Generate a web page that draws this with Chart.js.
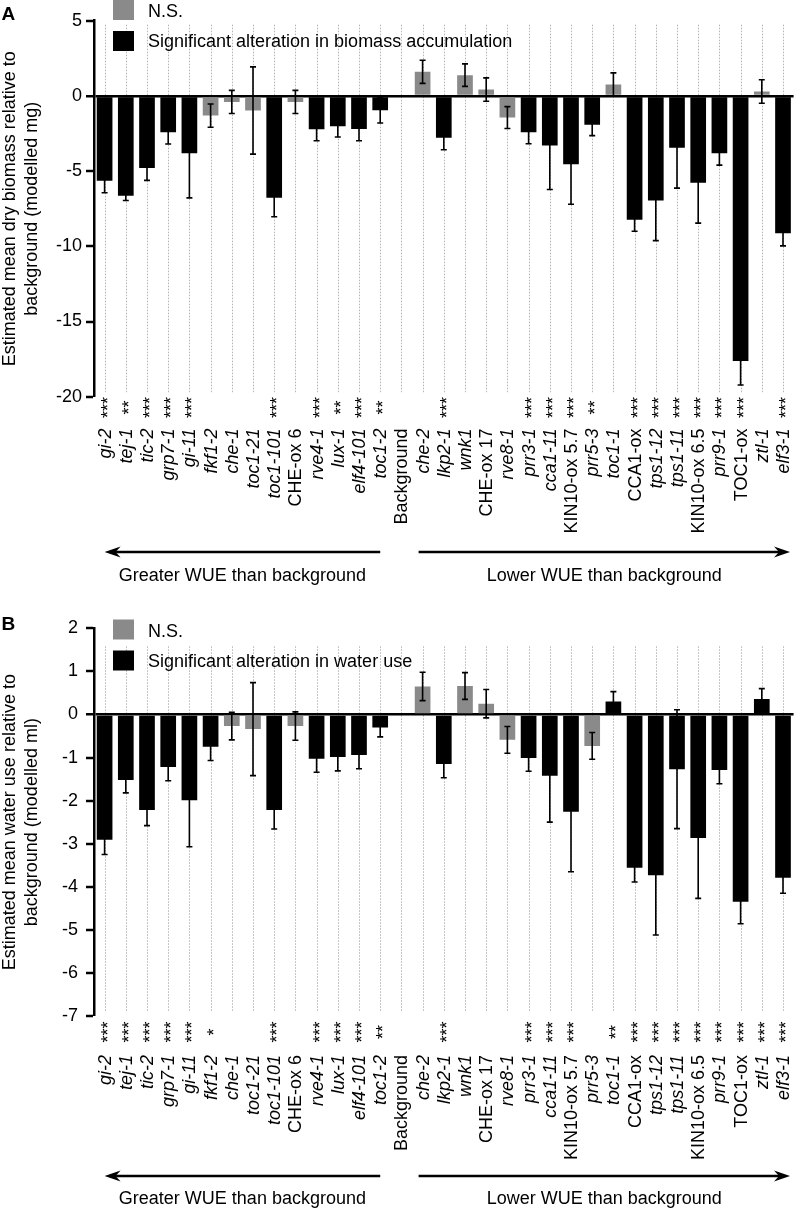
<!DOCTYPE html>
<html>
<head>
<meta charset="utf-8">
<script src="https://cdn.jsdelivr.net/npm/chart.js@4.4.0/dist/chart.umd.min.js"></script>
<style>
    body { margin: 0; background: #fff; }
    .painel { position: relative; width: 810px; }
    canvas { display: block; }
</style>
</head>
<body>
<div class="painel" style="height:600px"><canvas id="chartA" width="810" height="600"></canvas></div>
<div class="painel" style="height:608px"><canvas id="chartB" width="810" height="608"></canvas></div>
<script>
// Lines (x categories)
const lines = ['gi-2', 'tej-1', 'tic-2', 'grp7-1', 'gi-11', 'fkf1-2', 'che-1', 'toc1-21', 'toc1-101', 'CHE-ox 6',
    'rve4-1', 'lux-1', 'elf4-101', 'toc1-2', 'Background', 'che-2', 'lkp2-1', 'wnk1', 'CHE-ox 17', 'rve8-1',
    'prr3-1', 'cca1-11', 'KIN10-ox 5.7', 'prr5-3', 'toc1-1', 'CCA1-ox', 'tps1-12', 'tps1-11', 'KIN10-ox 6.5',
    'prr9-1', 'TOC1-ox', 'ztl-1', 'elf3-1'];

// Labels written upright (everything else is a gene name, in italics)
const uprightLabels = ['CHE-ox 6', 'Background', 'CHE-ox 17', 'KIN10-ox 5.7', 'CCA1-ox', 'KIN10-ox 6.5', 'TOC1-ox'];

// Panel A: dry biomass (modelled mg)
const biomass = [-5.64, -6.64, -4.8, -2.42, -3.82, -1.31, -0.4, -0.97, -6.78, -0.4,
    -2.22, -2.02, -2.2, -0.95, null, 1.6, -2.78, 1.38, 0.42, -1.44,
    -2.42, -3.29, -4.55, -1.91, 0.76, -8.24, -6.95, -3.44, -5.77,
    -3.82, -17.62, 0.29, -9.13];
const biomassErr = [0.8, 0.31, 0.82, 0.78, 2.96, 0.77, 0.77, 2.9, 1.26, 0.77,
    0.76, 0.71, 0.78, 0.85, null, 0.77, 0.8, 0.75, 0.78, 0.73,
    0.76, 2.93, 2.65, 0.73, 0.77, 0.76, 2.67, 2.69, 2.69,
    0.78, 1.6, 0.78, 0.84];
const biomassStars = ['***', '**', '***', '***', '***', '', '', '', '***', '',
    '***', '**', '***', '**', '', '', '***', '', '', '',
    '***', '***', '***', '**', '', '***', '***', '***', '***',
    '***', '***', '', '***'];
const biomassTicks = [5, 0, -5, -10, -15, -20];

// Panel B: water use (modelled ml)
const water = [-2.91, -1.52, -2.22, -1.22, -1.99, -0.75, -0.27, -0.34, -2.22, -0.27,
    -1.03, -0.99, -0.94, -0.3, null, 0.65, -1.15, 0.66, 0.25, -0.59,
    -1.01, -1.42, -2.26, -0.73, 0.3, -3.56, -3.73, -1.27, -2.87,
    -1.29, -4.35, 0.36, -3.79];
const waterErr = [0.34, 0.3, 0.36, 0.32, 1.08, 0.32, 0.32, 1.08, 0.44, 0.33,
    0.31, 0.32, 0.32, 0.22, null, 0.33, 0.32, 0.31, 0.33, 0.31,
    0.31, 1.08, 1.39, 0.31, 0.23, 0.33, 1.39, 1.38, 1.4,
    0.32, 0.51, 0.24, 0.36];
const waterStars = ['***', '***', '***', '***', '***', '*', '', '', '***', '',
    '***', '***', '***', '**', '', '', '***', '', '', '',
    '***', '***', '***', '', '**', '***', '***', '***', '***',
    '***', '***', '***', '***'];
const waterTicks = [2, 1, 0, -1, -2, -3, -4, -5, -6, -7];

const FONT = '"Liberation Sans", Arial, Helvetica, sans-serif';
const GRAY = '#8a8a8a';

// Draws one rotated (bottom-to-top) text
function textoVertical(ctx, text, x, y, align, font) {
    ctx.save();
    ctx.translate(x, y);
    ctx.rotate(-Math.PI / 2);
    ctx.font = font;
    ctx.textAlign = align;
    ctx.textBaseline = 'middle';
    ctx.fillText(text, 0, 0);
    ctx.restore();
}

// Horizontal arrow with filled head at (x2, y)
function seta(ctx, x1, x2, y) {
    const dir = Math.sign(x2 - x1);
    ctx.save();
    ctx.strokeStyle = '#000';
    ctx.fillStyle = '#000';
    ctx.lineWidth = 2.5;
    ctx.beginPath();
    ctx.moveTo(x1, y);
    ctx.lineTo(x2 - dir * 10, y);
    ctx.stroke();
    ctx.beginPath();
    ctx.moveTo(x2, y);
    ctx.lineTo(x2 - dir * 16, y - 5.5);
    ctx.lineTo(x2 - dir * 11, y);
    ctx.lineTo(x2 - dir * 16, y + 5.5);
    ctx.closePath();
    ctx.fill();
    ctx.restore();
}

// Plugin with the panel extras: dotted grid, error bars, labels, legend, titles
function painelPlugin(p) {
    return {
        id: 'painel',
        beforeDraw(chart) {
            const ctx = chart.ctx;
            const area = chart.chartArea;
            const x = chart.scales.x;
            ctx.save();
            ctx.strokeStyle = '#b4b4b4';
            ctx.lineWidth = 1;
            ctx.setLineDash([1.5, 1.5]);
            lines.forEach((_, i) => {
                const px = Math.round(x.getPixelForValue(i)) + 0.5;
                ctx.beginPath();
                ctx.moveTo(px, area.top + p.gridTop);
                ctx.lineTo(px, area.bottom - 4);
                ctx.stroke();
            });
            ctx.restore();
        },
        afterDatasetsDraw(chart) {
            const ctx = chart.ctx;
            const meta = chart.getDatasetMeta(0);
            const y = chart.scales.y;
            ctx.save();
            ctx.strokeStyle = '#000';
            ctx.lineWidth = 1.6;
            p.values.forEach((v, i) => {
                const e = p.errors[i];
                if (v === null || e === null) return;
                const px = meta.data[i].x;
                const top = y.getPixelForValue(v + e);
                const bot = y.getPixelForValue(v - e);
                ctx.beginPath();
                ctx.moveTo(px, top);
                ctx.lineTo(px, bot);
                ctx.moveTo(px - 3, top);
                ctx.lineTo(px + 3, top);
                ctx.moveTo(px - 3, bot);
                ctx.lineTo(px + 3, bot);
                ctx.stroke();
            });
            ctx.restore();
        },
        afterDraw(chart) {
            const ctx = chart.ctx;
            const area = chart.chartArea;
            const x = chart.scales.x;
            ctx.fillStyle = '#000';

            // category labels and significance stars
            lines.forEach((name, i) => {
                const px = x.getPixelForValue(i);
                const estilo = uprightLabels.includes(name) ? '' : 'italic ';
                textoVertical(ctx, name, px + 1, p.labelTop, 'right', estilo + '18px ' + FONT);
                if (p.stars[i]) {
                    textoVertical(ctx, p.stars[i], px + 4, p.starMid, 'center', '18px ' + FONT);
                }
            });

            // y axis title (two lines)
            const meio = (area.top + area.bottom) / 2;
            p.yTitle.forEach((t, k) => {
                ctx.save();
                ctx.translate(15 + k * 22, meio);
                ctx.rotate(-Math.PI / 2);
                ctx.font = '18px ' + FONT;
                ctx.textAlign = 'center';
                ctx.textBaseline = 'alphabetic';
                ctx.fillText(t, 0, 0);
                ctx.restore();
            });

            // panel letter
            ctx.font = 'bold 19px ' + FONT;
            ctx.textAlign = 'left';
            ctx.textBaseline = 'alphabetic';
            ctx.fillText(p.letter, 1.5, p.letterBase);

            // legend
            ctx.fillStyle = GRAY;
            ctx.fillRect(113, p.legendTop, 21, 20);
            ctx.fillStyle = '#000';
            ctx.fillRect(113, p.legendTop + 31, 21, 20);
            ctx.font = '18px ' + FONT;
            ctx.fillText('N.S.', 148, p.legendTop + 17);
            ctx.fillText(p.legendText, 148, p.legendTop + 47);

            // arrows and captions
            const esq1 = x.getPixelForValue(13);
            const esq2 = x.getPixelForValue(0);
            const dir1 = x.getPixelForValue(15) - 4;
            const dir2 = x.getPixelForValue(32) + 7;
            seta(ctx, esq1, esq2, p.arrowY);
            seta(ctx, dir1, dir2, p.arrowY);
            ctx.textAlign = 'center';
            ctx.fillText('Greater WUE than background', (esq1 + esq2) / 2, p.captionBase);
            ctx.fillText('Lower WUE than background', (dir1 + dir2) / 2, p.captionBase);
        }
    };
}

// Builds one panel chart
function criarPainel(id, p) {
    const ctx = document.getElementById(id).getContext('2d');
    return new Chart(ctx, {
        type: 'bar',
        data: {
            labels: lines,
            datasets: [{
                data: p.values,
                backgroundColor: p.stars.map(s => s ? '#000' : GRAY),
                barPercentage: 0.74,
                categoryPercentage: 1,
                borderWidth: 0
            }]
        },
        options: {
            responsive: false,
            animation: false,
            layout: { padding: { top: p.padTop, right: 16.4, left: 0, bottom: 0 } },
            plugins: {
                legend: { display: false },
                tooltip: { enabled: false }
            },
            scales: {
                x: {
                    ticks: { display: false },
                    grid: { display: false },
                    border: { display: false },
                    afterFit: s => { s.height = p.xHeight; }
                },
                y: {
                    min: Math.min(...p.ticks),
                    max: Math.max(...p.ticks),
                    afterBuildTicks: s => { s.ticks = p.ticks.map(v => ({ value: v })); },
                    ticks: {
                        color: '#000',
                        font: { family: FONT, size: 18 },
                        padding: p.tickPad
                    },
                    grid: {
                        color: c => c.tick && c.tick.value === 0 ? '#000' : 'rgba(0,0,0,0)',
                        lineWidth: c => c.tick && c.tick.value === 0 ? 2.5 : 0,
                        tickColor: '#000',
                        tickWidth: 2.5,
                        tickLength: 8
                    },
                    border: { color: '#000', width: 2.5 },
                    afterFit: s => { s.width = 94; }
                }
            }
        },
        plugins: [painelPlugin(p)]
    });
}

criarPainel('chartA', {
    values: biomass, errors: biomassErr, stars: biomassStars, ticks: biomassTicks,
    yTitle: ['Estimated mean dry biomass relative to', 'background (modelled mg)'],
    legendText: 'Significant alteration in biomass accumulation',
    letter: 'A', letterBase: 19.5, legendTop: 0,
    padTop: 20.7, xHeight: 203.3, tickPad: 4, gridTop: 4,
    starMid: 407.5, labelTop: 428.5, arrowY: 552, captionBase: 581
});

criarPainel('chartB', {
    values: water, errors: waterErr, stars: waterStars, ticks: waterTicks,
    yTitle: ['Estimated mean water use relative to', 'background (modelled ml)'],
    legendText: 'Significant alteration in water use',
    letter: 'B', letterBase: 29.5, legendTop: 19.5,
    padTop: 28.3, xHeight: 192, tickPad: 8, gridTop: 18,
    starMid: 432, labelTop: 455, arrowY: 576, captionBase: 603.5
});
</script>
</body>
</html>
